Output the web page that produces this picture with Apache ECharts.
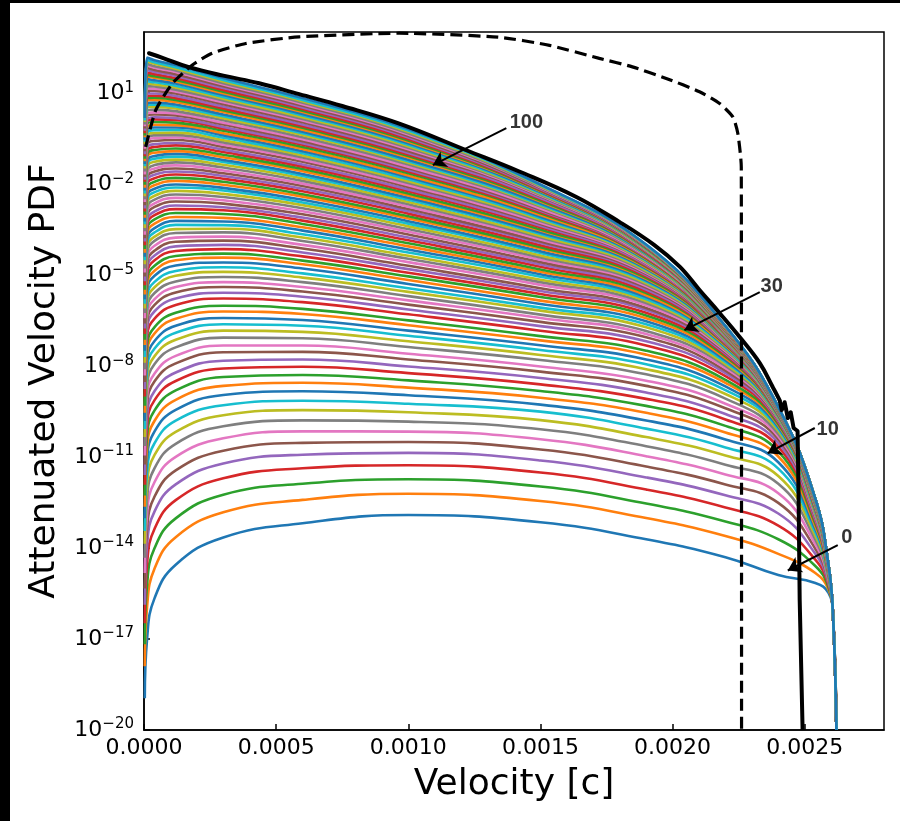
<!DOCTYPE html>
<html>
<head>
<meta charset="utf-8">
<script src="https://cdn.jsdelivr.net/npm/echarts@6/dist/echarts.min.js"></script>
<style>
  html, body { margin: 0; padding: 0; background: #fff; }
  #chart { width: 900px; height: 821px; }
</style>
</head>
<body>
<div id="chart"></div>
<script>
// velocity grid [c] shared by all attenuated curves
const velocity = [0.000003, 0.000012, 0.00004, 0.00012, 0.0003, 0.0006, 0.001, 0.0015, 0.0019, 0.0022, 0.0024, 0.00254, 0.00259, 0.002607, 0.00262];

// log10(attenuated PDF), one row per curve, curve 0 (bottom) .. curve 100 (top)
const curveLogPdf = [
  [-18.95,-16.95,-15.65,-14.55,-13.65,-13.18,-12.91,-13.15,-13.71,-14.30,-14.89,-15.15,-15.48,-16.2,-20],
  [-17.90,-15.90,-14.67,-13.64,-12.82,-12.41,-12.21,-12.45,-13.01,-13.60,-14.19,-14.82,-15.37,-16.2,-20],
  [-17.17,-15.17,-14.00,-13.02,-12.24,-11.88,-11.73,-11.97,-12.53,-13.12,-13.71,-14.59,-15.30,-16.2,-20],
  [-16.48,-14.48,-13.36,-12.42,-11.70,-11.37,-11.27,-11.51,-12.07,-12.66,-13.26,-14.38,-15.22,-16.2,-20],
  [-15.87,-13.87,-12.79,-11.90,-11.21,-10.92,-10.86,-11.11,-11.67,-12.26,-12.86,-14.19,-15.16,-16.2,-20],
  [-15.33,-13.33,-12.30,-11.44,-10.79,-10.53,-10.50,-10.75,-11.31,-11.90,-12.51,-14.02,-15.11,-16.2,-20],
  [-14.82,-12.82,-11.82,-10.99,-10.38,-10.15,-10.16,-10.41,-10.97,-11.57,-12.19,-13.87,-15.06,-16.2,-20],
  [-14.32,-12.32,-11.36,-10.56,-9.98,-9.79,-9.83,-10.08,-10.64,-11.25,-11.88,-13.72,-15.01,-16.2,-20],
  [-13.86,-11.86,-10.93,-10.17,-9.62,-9.45,-9.52,-9.78,-10.34,-10.95,-11.62,-13.59,-14.96,-16.2,-20],
  [-13.44,-11.44,-10.54,-9.80,-9.29,-9.14,-9.24,-9.50,-10.06,-10.68,-11.38,-13.48,-14.93,-16.2,-20],
  [-13.02,-11.02,-10.15,-9.44,-8.95,-8.83,-8.96,-9.27,-9.79,-10.42,-11.17,-13.37,-14.89,-16.2,-20],
  [-12.64,-10.64,-9.80,-9.11,-8.65,-8.55,-8.71,-9.04,-9.54,-10.19,-10.98,-13.28,-14.86,-16.2,-20],
  [-12.27,-10.27,-9.46,-8.80,-8.36,-8.29,-8.47,-8.82,-9.31,-9.97,-10.81,-13.19,-14.83,-16.2,-20],
  [-11.91,-9.91,-9.12,-8.49,-8.08,-8.02,-8.23,-8.60,-9.08,-9.76,-10.66,-13.11,-14.81,-16.2,-20],
  [-11.59,-9.59,-8.82,-8.21,-7.82,-7.78,-8.01,-8.39,-8.87,-9.58,-10.53,-13.05,-14.79,-16.2,-20],
  [-11.24,-9.24,-8.50,-7.91,-7.54,-7.53,-7.78,-8.18,-8.65,-9.39,-10.41,-12.98,-14.76,-16.2,-20],
  [-10.95,-8.95,-8.24,-7.66,-7.32,-7.32,-7.59,-8.01,-8.48,-9.24,-10.32,-12.93,-14.75,-16.2,-20],
  [-10.63,-8.63,-7.93,-7.38,-7.06,-7.08,-7.37,-7.80,-8.27,-9.07,-10.24,-12.88,-14.73,-16.2,-20],
  [-10.34,-8.34,-7.67,-7.13,-6.83,-6.87,-7.18,-7.63,-8.10,-8.92,-10.14,-12.84,-14.71,-16.2,-20],
  [-10.07,-8.07,-7.42,-6.90,-6.62,-6.67,-7.00,-7.47,-7.94,-8.79,-10.07,-12.80,-14.70,-16.2,-20],
  [-9.81,-7.81,-7.17,-6.67,-6.41,-6.48,-6.83,-7.31,-7.78,-8.67,-10.01,-12.76,-14.69,-16.2,-20],
  [-9.54,-7.54,-6.92,-6.44,-6.20,-6.28,-6.65,-7.15,-7.62,-8.55,-9.95,-12.73,-14.68,-16.2,-20],
  [-9.31,-7.31,-6.71,-6.24,-6.01,-6.11,-6.49,-7.01,-7.49,-8.45,-9.91,-12.70,-14.67,-16.2,-20],
  [-9.00,-7.00,-6.43,-5.98,-5.77,-5.89,-6.29,-6.83,-7.32,-8.33,-9.85,-12.67,-14.66,-16.2,-20],
  [-8.75,-6.75,-6.19,-5.77,-5.58,-5.71,-6.13,-6.68,-7.18,-8.23,-9.81,-12.65,-14.65,-16.2,-20],
  [-8.52,-6.52,-5.98,-5.57,-5.39,-5.54,-5.97,-6.54,-7.05,-8.15,-9.77,-12.63,-14.65,-16.2,-20],
  [-8.31,-6.31,-5.79,-5.39,-5.23,-5.39,-5.83,-6.41,-6.94,-8.07,-9.74,-12.61,-14.64,-16.2,-20],
  [-8.10,-6.10,-5.59,-5.21,-5.06,-5.23,-5.69,-6.30,-6.84,-7.99,-9.72,-12.59,-14.63,-16.2,-20],
  [-7.89,-5.89,-5.40,-5.02,-4.89,-5.08,-5.55,-6.17,-6.72,-7.93,-9.69,-12.58,-14.63,-16.2,-20],
  [-7.70,-5.70,-5.22,-4.86,-4.74,-4.94,-5.43,-6.07,-6.62,-7.86,-9.66,-12.57,-14.62,-16.2,-20],
  [-7.49,-5.49,-5.02,-4.68,-4.58,-4.78,-5.29,-5.95,-6.52,-7.80,-9.64,-12.55,-14.62,-16.2,-20],
  [-7.30,-5.30,-4.85,-4.51,-4.42,-4.64,-5.16,-5.84,-6.42,-7.74,-9.62,-12.54,-14.62,-16.2,-20],
  [-7.13,-5.13,-4.69,-4.37,-4.29,-4.52,-5.04,-5.72,-6.33,-7.68,-9.61,-12.53,-14.61,-16.2,-20],
  [-6.94,-4.94,-4.51,-4.20,-4.14,-4.38,-4.92,-5.62,-6.24,-7.63,-9.59,-12.52,-14.61,-16.2,-20],
  [-6.76,-4.76,-4.35,-4.05,-4.00,-4.25,-4.80,-5.52,-6.15,-7.58,-9.58,-12.51,-14.61,-16.2,-20],
  [-6.59,-4.59,-4.19,-3.90,-3.86,-4.12,-4.69,-5.43,-6.08,-7.54,-9.57,-12.50,-14.60,-16.2,-20],
  [-6.42,-4.42,-4.03,-3.76,-3.73,-4.00,-4.57,-5.32,-5.99,-7.50,-9.55,-12.50,-14.60,-16.2,-20],
  [-6.25,-4.25,-3.87,-3.61,-3.59,-3.87,-4.46,-5.23,-5.92,-7.46,-9.54,-12.49,-14.60,-16.2,-20],
  [-6.10,-4.10,-3.73,-3.48,-3.47,-3.76,-4.36,-5.15,-5.85,-7.43,-9.53,-12.48,-14.60,-16.2,-20],
  [-5.94,-3.94,-3.59,-3.34,-3.35,-3.65,-4.25,-5.05,-5.79,-7.39,-9.52,-12.48,-14.60,-16.2,-20],
  [-5.79,-3.79,-3.45,-3.21,-3.23,-3.53,-4.15,-4.97,-5.72,-7.35,-9.51,-12.47,-14.59,-16.2,-20],
  [-5.64,-3.64,-3.30,-3.08,-3.11,-3.42,-4.05,-4.89,-5.66,-7.32,-9.50,-12.47,-14.59,-16.2,-20],
  [-5.48,-3.48,-3.16,-2.95,-2.98,-3.31,-3.95,-4.81,-5.59,-7.29,-9.50,-12.46,-14.59,-16.2,-20],
  [-5.33,-3.33,-3.02,-2.82,-2.86,-3.20,-3.85,-4.72,-5.53,-7.26,-9.49,-12.46,-14.59,-16.2,-20],
  [-5.20,-3.20,-2.90,-2.70,-2.76,-3.10,-3.76,-4.65,-5.47,-7.24,-9.48,-12.45,-14.59,-16.2,-20],
  [-5.04,-3.04,-2.75,-2.57,-2.64,-2.99,-3.66,-4.57,-5.41,-7.21,-9.47,-12.45,-14.59,-16.2,-20],
  [-4.91,-2.91,-2.63,-2.45,-2.53,-2.89,-3.57,-4.49,-5.36,-7.19,-9.47,-12.44,-14.58,-16.2,-20],
  [-4.78,-2.78,-2.51,-2.34,-2.42,-2.79,-3.48,-4.42,-5.31,-7.17,-9.46,-12.44,-14.58,-16.2,-20],
  [-4.64,-2.64,-2.38,-2.22,-2.32,-2.69,-3.39,-4.35,-5.26,-7.14,-9.46,-12.44,-14.58,-16.2,-20],
  [-4.51,-2.51,-2.26,-2.11,-2.21,-2.60,-3.30,-4.27,-5.21,-7.12,-9.45,-12.43,-14.58,-16.2,-20],
  [-4.39,-2.39,-2.15,-2.01,-2.12,-2.51,-3.22,-4.21,-5.17,-7.11,-9.45,-12.43,-14.58,-16.2,-20],
  [-4.26,-2.26,-2.03,-1.89,-2.02,-2.41,-3.13,-4.13,-5.12,-7.09,-9.44,-12.43,-14.58,-16.2,-20],
  [-4.14,-2.14,-1.92,-1.79,-1.92,-2.33,-3.06,-4.08,-5.09,-7.07,-9.44,-12.42,-14.58,-16.2,-20],
  [-4.01,-2.01,-1.80,-1.68,-1.82,-2.23,-2.97,-4.01,-5.04,-7.05,-9.43,-12.42,-14.58,-16.2,-20],
  [-3.89,-1.89,-1.69,-1.58,-1.73,-2.15,-2.89,-3.94,-5.00,-7.03,-9.43,-12.42,-14.58,-16.2,-20],
  [-3.78,-1.78,-1.58,-1.48,-1.64,-2.06,-2.82,-3.89,-4.96,-7.02,-9.42,-12.42,-14.57,-16.2,-20],
  [-3.67,-1.67,-1.48,-1.38,-1.55,-1.98,-2.74,-3.82,-4.92,-7.00,-9.42,-12.42,-14.57,-16.2,-20],
  [-3.55,-1.55,-1.37,-1.28,-1.45,-1.89,-2.66,-3.76,-4.89,-6.99,-9.42,-12.41,-14.57,-16.2,-20],
  [-3.44,-1.44,-1.26,-1.19,-1.36,-1.81,-2.59,-3.71,-4.85,-6.97,-9.41,-12.41,-14.57,-16.2,-20],
  [-3.32,-1.32,-1.16,-1.09,-1.27,-1.73,-2.51,-3.64,-4.81,-6.96,-9.41,-12.41,-14.57,-16.2,-20],
  [-3.23,-1.23,-1.07,-1.00,-1.20,-1.66,-2.45,-3.59,-4.78,-6.95,-9.41,-12.41,-14.57,-16.2,-20],
  [-3.11,-1.11,-0.96,-0.91,-1.11,-1.57,-2.37,-3.53,-4.75,-6.94,-9.41,-12.41,-14.57,-16.2,-20],
  [-3.01,-1.01,-0.87,-0.82,-1.03,-1.50,-2.31,-3.49,-4.72,-6.93,-9.40,-12.40,-14.57,-16.2,-20],
  [-2.90,-0.90,-0.77,-0.72,-0.94,-1.42,-2.23,-3.42,-4.69,-6.91,-9.40,-12.40,-14.57,-16.2,-20],
  [-2.80,-0.80,-0.68,-0.64,-0.86,-1.35,-2.17,-3.37,-4.66,-6.90,-9.40,-12.40,-14.57,-16.2,-20],
  [-2.69,-0.69,-0.57,-0.54,-0.77,-1.26,-2.09,-3.31,-4.62,-6.89,-9.40,-12.40,-14.57,-16.2,-20],
  [-2.59,-0.59,-0.48,-0.46,-0.70,-1.19,-2.03,-3.27,-4.60,-6.88,-9.39,-12.40,-14.57,-16.2,-20],
  [-2.50,-0.50,-0.39,-0.38,-0.62,-1.12,-1.96,-3.21,-4.57,-6.87,-9.39,-12.40,-14.57,-16.2,-20],
  [-2.40,-0.40,-0.31,-0.30,-0.55,-1.05,-1.90,-3.17,-4.55,-6.86,-9.39,-12.39,-14.57,-16.2,-20],
  [-2.31,-0.31,-0.22,-0.21,-0.47,-0.98,-1.84,-3.12,-4.52,-6.85,-9.39,-12.39,-14.57,-16.2,-20],
  [-2.21,-0.21,-0.13,-0.13,-0.39,-0.91,-1.77,-3.07,-4.50,-6.84,-9.39,-12.39,-14.57,-16.2,-20],
  [-2.12,-0.12,-0.04,-0.05,-0.32,-0.84,-1.71,-3.02,-4.47,-6.84,-9.38,-12.39,-14.57,-16.2,-20],
  [-2.02,-0.02,0.05,0.03,-0.24,-0.77,-1.64,-2.96,-4.45,-6.83,-9.38,-12.39,-14.57,-16.2,-20],
  [-1.92,0.08,0.14,0.12,-0.17,-0.70,-1.58,-2.92,-4.42,-6.82,-9.38,-12.39,-14.57,-16.2,-20],
  [-1.85,0.15,0.21,0.18,-0.11,-0.65,-1.53,-2.88,-4.40,-6.81,-9.38,-12.39,-14.57,-16.2,-20],
  [-1.75,0.25,0.30,0.27,-0.03,-0.58,-1.47,-2.84,-4.38,-6.81,-9.38,-12.39,-14.57,-16.2,-20],
  [-1.68,0.32,0.37,0.33,0.03,-0.52,-1.42,-2.80,-4.37,-6.80,-9.38,-12.39,-14.57,-16.2,-20],
  [-1.58,0.42,0.46,0.41,0.11,-0.45,-1.35,-2.74,-4.34,-6.79,-9.37,-12.38,-14.56,-16.2,-20],
  [-1.48,0.52,0.55,0.50,0.18,-0.38,-1.29,-2.70,-4.32,-6.79,-9.37,-12.38,-14.56,-16.2,-20],
  [-1.41,0.59,0.62,0.56,0.24,-0.32,-1.24,-2.67,-4.30,-6.78,-9.37,-12.38,-14.56,-16.2,-20],
  [-1.33,0.67,0.69,0.63,0.30,-0.27,-1.19,-2.63,-4.29,-6.77,-9.37,-12.38,-14.56,-16.2,-20],
  [-1.24,0.76,0.78,0.71,0.38,-0.20,-1.12,-2.57,-4.26,-6.77,-9.37,-12.38,-14.56,-16.2,-20],
  [-1.16,0.84,0.85,0.78,0.44,-0.14,-1.07,-2.54,-4.25,-6.76,-9.37,-12.38,-14.56,-16.2,-20],
  [-1.08,0.92,0.92,0.84,0.50,-0.09,-1.02,-2.49,-4.23,-6.76,-9.37,-12.38,-14.56,-16.2,-20],
  [-1.01,0.99,0.99,0.91,0.56,-0.03,-0.97,-2.46,-4.21,-6.75,-9.37,-12.38,-14.56,-16.2,-20],
  [-0.91,1.09,1.08,0.99,0.64,0.04,-0.91,-2.40,-4.19,-6.75,-9.36,-12.38,-14.56,-16.2,-20],
  [-0.83,1.17,1.15,1.06,0.70,0.10,-0.85,-2.37,-4.18,-6.74,-9.36,-12.38,-14.56,-16.2,-20],
  [-0.76,1.24,1.22,1.12,0.76,0.15,-0.80,-2.35,-4.16,-6.73,-9.36,-12.38,-14.56,-16.2,-20],
  [-0.68,1.32,1.29,1.19,0.82,0.21,-0.75,-2.32,-4.15,-6.73,-9.36,-12.38,-14.56,-16.2,-20],
  [-0.60,1.40,1.36,1.25,0.88,0.27,-0.70,-2.29,-4.13,-6.72,-9.36,-12.38,-14.56,-16.2,-20],
  [-0.53,1.47,1.43,1.32,0.94,0.32,-0.65,-2.26,-4.12,-6.72,-9.36,-12.38,-14.56,-16.2,-20],
  [-0.45,1.55,1.51,1.39,1.00,0.38,-0.60,-2.23,-4.10,-6.72,-9.36,-12.37,-14.56,-16.2,-20],
  [-0.39,1.61,1.56,1.44,1.05,0.42,-0.56,-2.21,-4.09,-6.71,-9.36,-12.37,-14.56,-16.2,-20],
  [-0.32,1.68,1.63,1.50,1.11,0.48,-0.51,-2.19,-4.07,-6.71,-9.36,-12.37,-14.56,-16.2,-20],
  [-0.24,1.76,1.70,1.57,1.17,0.53,-0.46,-2.16,-4.06,-6.70,-9.35,-12.37,-14.56,-16.2,-20],
  [-0.16,1.84,1.77,1.63,1.23,0.59,-0.41,-2.13,-4.05,-6.70,-9.35,-12.37,-14.56,-16.2,-20],
  [-0.09,1.91,1.84,1.70,1.29,0.64,-0.36,-2.10,-4.03,-6.70,-9.35,-12.37,-14.56,-16.2,-20],
  [-0.03,1.97,1.89,1.75,1.33,0.69,-0.32,-2.08,-4.02,-6.69,-9.35,-12.37,-14.56,-16.2,-20],
  [0.05,2.05,1.97,1.81,1.39,0.74,-0.27,-2.05,-4.01,-6.69,-9.35,-12.37,-14.56,-16.2,-20],
  [0.10,2.10,2.02,1.86,1.44,0.78,-0.23,-2.03,-4.00,-6.68,-9.35,-12.37,-14.56,-16.2,-20],
  [0.18,2.18,2.09,1.93,1.50,0.84,-0.18,-2.01,-3.99,-6.68,-9.35,-12.37,-14.56,-16.2,-20]
];

// thick black solid curve (smooth part up to index 19, jagged drop after)
const solidVelocity = [0.0000189, 0.00007, 0.00017, 0.0003, 0.000436, 0.000587, 0.00075, 0.000966, 0.00122, 0.00142, 0.001636, 0.0018, 0.00193, 0.002027, 0.002102, 0.002178, 0.002254, 0.00233, 0.002379, 0.002405, 0.002413, 0.002424, 0.002436, 0.002447, 0.002458, 0.002473, 0.002477, 0.002481, 0.002492];
const solidLogPdf = [2.32, 2.17, 1.86, 1.58, 1.33, 0.97, 0.58, 0.00, -0.88, -1.58, -2.42, -3.25, -4.00, -4.72, -5.49, -6.25, -7.04, -7.90, -8.69, -9.12, -9.45, -9.19, -9.71, -9.52, -10.04, -10.14, -12.42, -15.71, -20];
const solidSmoothEnd = 19;

// black dashed curve
const dashedVelocity = [0.0000064, 0.0000443, 0.000107, 0.000183, 0.000258, 0.000385, 0.000587, 0.000966, 0.00134, 0.001534, 0.001723, 0.001848, 0.001976, 0.002102, 0.002178, 0.002228, 0.002247, 0.00226, 0.002261];
const dashedLogPdf = [-0.77, 0.44, 1.32, 1.93, 2.32, 2.64, 2.86, 2.98, 2.85, 2.58, 2.15, 1.87, 1.49, 1.05, 0.66, 0.22, -0.33, -1.43, -20];

// curve labels with arrows (data coordinates)
const noteText = ['100', '30', '10', '0'];
const noteTextV = [0.001447, 0.002375, 0.002587, 0.002659];
const noteTextL = [0.05, -5.36, -10.08, -13.64];
const arrowTailV = [0.001371, 0.00233, 0.002538, 0.002625];
const arrowTailL = [-0.15, -5.56, -10.04, -13.90];
const arrowTipV = [0.001093, 0.002045, 0.00236, 0.002436];
const arrowTipL = [-1.37, -6.81, -10.87, -14.74];

const palette = ['#1f77b4', '#ff7f0e', '#2ca02c', '#d62728', '#9467bd', '#8c564b', '#e377c2', '#7f7f7f', '#bcbd22', '#17becf'];

const chart = echarts.init(document.getElementById('chart'), null, { renderer: 'canvas' });

const series = curveLogPdf.map((row, k) => ({
  type: 'line',
  data: velocity.map((v, j) => [v, row[j]]),
  showSymbol: false,
  symbol: 'none',
  smooth: 0.45,
  silent: true,
  z: 2,
  lineStyle: { width: 2.6, color: palette[k % 10] }
}));

const solidPoints = solidVelocity.map((v, i) => [v, solidLogPdf[i]]);

series.push({
  type: 'line',
  data: solidPoints.slice(0, solidSmoothEnd + 1),
  showSymbol: false,
  symbol: 'none',
  smooth: 0.4,
  silent: true,
  z: 5,
  lineStyle: { width: 4, color: '#000', cap: 'round' }
});

series.push({
  type: 'line',
  data: solidPoints.slice(solidSmoothEnd),
  showSymbol: false,
  symbol: 'none',
  silent: true,
  z: 5,
  lineStyle: { width: 4, color: '#000', join: 'round' }
});

series.push({
  type: 'line',
  data: dashedVelocity.map((v, i) => [v, dashedLogPdf[i]]),
  showSymbol: false,
  symbol: 'none',
  smooth: 0.2,
  silent: true,
  z: 6,
  lineStyle: { width: 3.2, color: '#000', type: [12, 6] }
});

series.push({
  type: 'lines',
  coordinateSystem: 'cartesian2d',
  silent: true,
  z: 10,
  symbol: ['none', 'arrow'],
  symbolSize: 13,
  lineStyle: { color: '#000', width: 2, opacity: 1 },
  data: noteText.map((t, i) => ({ coords: [[arrowTailV[i], arrowTailL[i]], [arrowTipV[i], arrowTipL[i]]] }))
});

series.push({
  type: 'scatter',
  silent: true,
  z: 10,
  symbolSize: 0,
  data: noteText.map((t, i) => ({ name: t, value: [noteTextV[i], noteTextL[i]] })),
  label: {
    show: true,
    position: 'inside',
    formatter: '{b}',
    color: '#000',
    fontSize: 20,
    fontWeight: 'bold',
    fontFamily: 'Liberation Sans'
  }
});

const supText = v => (v < 0 ? '\u2212' + (-v) : String(v));

chart.setOption({
  animation: false,
  backgroundColor: '#fff',
  graphic: [
    { type: 'rect', shape: { x: 0, y: 0, width: 900, height: 3 }, style: { fill: '#000' } },
    { type: 'rect', shape: { x: 0, y: 0, width: 10, height: 821 }, style: { fill: '#000' } }
  ],
  grid: {
    left: 144, right: 16, top: 32, bottom: 91,
    show: true, borderColor: '#000', borderWidth: 1.5, backgroundColor: 'transparent'
  },
  xAxis: {
    type: 'value',
    min: 0, max: 0.0028, interval: 0.0005,
    name: 'Velocity [c]',
    nameLocation: 'middle',
    nameGap: 37,
    nameTextStyle: { fontSize: 36, fontFamily: 'DejaVu Sans', color: '#000' },
    axisLine: { show: true, onZero: false, lineStyle: { color: '#000', width: 1.5 } },
    axisTick: { show: true, inside: true, length: 6, lineStyle: { color: '#000', width: 1.5 } },
    splitLine: { show: false },
    axisLabel: {
      margin: 7,
      showMaxLabel: false,
      color: '#000',
      fontSize: 22,
      fontFamily: 'DejaVu Sans',
      formatter: v => {
        const n = v / 0.0005;
        return Math.abs(n - Math.round(n)) < 1e-6 ? v.toFixed(4) : '';
      }
    }
  },
  yAxis: {
    type: 'value',
    min: -20, max: 3.02, interval: 3,
    name: 'Attenuated Velocity PDF',
    nameLocation: 'middle',
    nameGap: 81,
    nameTextStyle: { fontSize: 36, fontFamily: 'DejaVu Sans', color: '#000' },
    axisLine: { show: true, onZero: false, lineStyle: { color: '#000', width: 1.5 } },
    axisTick: { show: true, inside: true, length: 6, lineStyle: { color: '#000', width: 1.5 } },
    splitLine: { show: false },
    axisLabel: {
      margin: 10,
      showMaxLabel: false,
      formatter: v => {
        const n = (v + 20) / 3;
        if (Math.abs(n - Math.round(n)) > 1e-6) return '';
        return '{b|10}{s|' + supText(Math.round(v)) + '}';
      },
      rich: {
        b: { fontSize: 22, fontFamily: 'DejaVu Sans', color: '#000', lineHeight: 26 },
        s: { fontSize: 15, fontFamily: 'DejaVu Sans', color: '#000', verticalAlign: 'top', lineHeight: 15 }
      }
    }
  },
  series: series
});
</script>
</body>
</html>
